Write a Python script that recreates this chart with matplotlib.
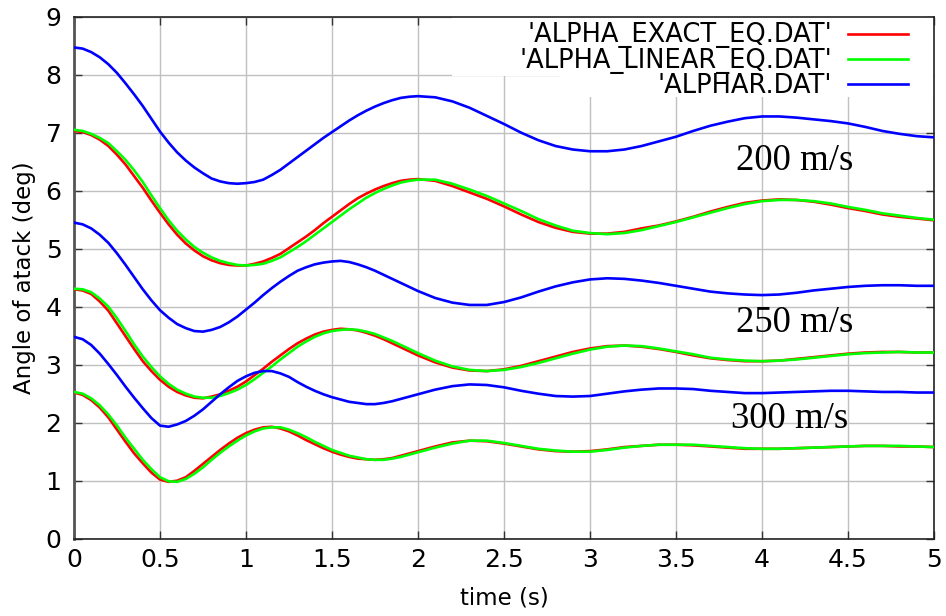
"""
Angle of attack vs time for three speeds (exact eq, linear eq, alphar data)
"""

import matplotlib
matplotlib.use('Agg')
import matplotlib.pyplot as plt
from matplotlib.patches import Rectangle
from matplotlib.lines import Line2D

# time axis (s): 0.05 s step up to 2 s, then 0.1 s step
time = ([round(0.05 * i, 2) for i in range(41)] +
        [round(2.0 + 0.1 * i, 1) for i in range(1, 31)])

# 200 m/s
exact_200 = [7.03, 7.01, 6.96, 6.88, 6.77, 6.62, 6.45, 6.25, 6.05, 5.83,
             5.62, 5.42, 5.24, 5.09, 4.97, 4.87, 4.80, 4.75, 4.72, 4.71,
             4.71, 4.74, 4.78, 4.84, 4.91, 5.01, 5.11, 5.21, 5.32, 5.44,
             5.55, 5.66, 5.77, 5.87, 5.95, 6.02, 6.08, 6.13, 6.17, 6.19,
             6.20,
             6.17, 6.08, 5.97, 5.86, 5.73, 5.59, 5.46, 5.36, 5.29, 5.26,
             5.26, 5.29, 5.35, 5.40, 5.47, 5.55, 5.64, 5.72, 5.79, 5.83,
             5.85, 5.84, 5.81, 5.76, 5.70, 5.65, 5.59, 5.55, 5.52, 5.49]
linear_200 = [7.05, 7.03, 6.98, 6.91, 6.82, 6.68, 6.53, 6.35, 6.15, 5.92,
              5.70, 5.49, 5.31, 5.16, 5.03, 4.93, 4.85, 4.79, 4.75, 4.72,
              4.71, 4.72, 4.74, 4.79, 4.85, 4.94, 5.03, 5.13, 5.24, 5.35,
              5.46, 5.57, 5.68, 5.78, 5.88, 5.96, 6.03, 6.09, 6.14, 6.17,
              6.19,
              6.19, 6.12, 6.02, 5.91, 5.78, 5.65, 5.51, 5.40, 5.31, 5.27,
              5.25, 5.27, 5.32, 5.39, 5.46, 5.54, 5.62, 5.70, 5.77, 5.82,
              5.84, 5.84, 5.82, 5.78, 5.72, 5.67, 5.61, 5.57, 5.53, 5.50]
alphar_200 = [8.47, 8.45, 8.39, 8.30, 8.18, 8.03, 7.85, 7.66, 7.46, 7.24,
              7.02, 6.83, 6.66, 6.52, 6.40, 6.30, 6.21, 6.16, 6.13, 6.12,
              6.13, 6.15, 6.19, 6.27, 6.36, 6.47, 6.58, 6.69, 6.80, 6.91,
              7.01, 7.11, 7.21, 7.30, 7.38, 7.45, 7.51, 7.56, 7.60, 7.62,
              7.63,
              7.61, 7.54, 7.43, 7.29, 7.15, 7.00, 6.87, 6.77, 6.71, 6.68,
              6.68, 6.71, 6.77, 6.85, 6.93, 7.03, 7.12, 7.19, 7.25, 7.28,
              7.28, 7.26, 7.23, 7.20, 7.16, 7.10, 7.03, 6.98, 6.94, 6.92]

# 250 m/s
exact_250 = [4.30, 4.28, 4.22, 4.09, 3.93, 3.71, 3.49, 3.27, 3.06, 2.89,
             2.74, 2.62, 2.53, 2.47, 2.43, 2.42, 2.45, 2.49, 2.55, 2.62,
             2.71, 2.82, 2.93, 3.05, 3.16, 3.27, 3.37, 3.45, 3.52, 3.57,
             3.60, 3.62, 3.61, 3.59, 3.55, 3.50, 3.44, 3.37, 3.30, 3.23,
             3.16,
             3.04, 2.95, 2.90, 2.89, 2.92, 2.98, 3.06, 3.14, 3.22, 3.28,
             3.32, 3.33, 3.31, 3.27, 3.22, 3.16, 3.11, 3.08, 3.06, 3.06,
             3.07, 3.10, 3.13, 3.16, 3.19, 3.21, 3.22, 3.22, 3.21, 3.21]
linear_250 = [4.31, 4.30, 4.25, 4.14, 4.00, 3.80, 3.58, 3.35, 3.14, 2.96,
              2.80, 2.67, 2.57, 2.50, 2.45, 2.43, 2.43, 2.46, 2.51, 2.57,
              2.65, 2.75, 2.86, 2.97, 3.09, 3.20, 3.31, 3.40, 3.48, 3.54,
              3.58, 3.60, 3.61, 3.60, 3.57, 3.53, 3.47, 3.41, 3.34, 3.27,
              3.20,
              3.07, 2.97, 2.91, 2.89, 2.91, 2.96, 3.03, 3.11, 3.19, 3.26,
              3.31, 3.33, 3.32, 3.28, 3.23, 3.18, 3.12, 3.09, 3.07, 3.06,
              3.07, 3.09, 3.12, 3.15, 3.18, 3.20, 3.21, 3.22, 3.21, 3.21]
alphar_250 = [5.45, 5.42, 5.35, 5.24, 5.10, 4.92, 4.72, 4.51, 4.30, 4.11,
              3.94, 3.81, 3.70, 3.63, 3.58, 3.57, 3.60, 3.65, 3.73, 3.83,
              3.95, 4.07, 4.20, 4.32, 4.43, 4.53, 4.62, 4.68, 4.73, 4.76,
              4.78, 4.79, 4.77, 4.73, 4.68, 4.62, 4.55, 4.48, 4.41, 4.34,
              4.27,
              4.15, 4.07, 4.03, 4.03, 4.08, 4.16, 4.26, 4.35, 4.42, 4.47,
              4.49, 4.48, 4.45, 4.41, 4.36, 4.31, 4.26, 4.23, 4.21, 4.20,
              4.21, 4.24, 4.28, 4.31, 4.34, 4.36, 4.37, 4.37, 4.36, 4.36]

# 300 m/s
exact_300 = [2.52, 2.48, 2.39, 2.26, 2.09, 1.88, 1.67, 1.47, 1.30, 1.14,
             1.02, 0.98, 1.00, 1.06, 1.17, 1.29, 1.41, 1.53, 1.64, 1.74,
             1.82, 1.88, 1.92, 1.93, 1.90, 1.85, 1.78, 1.70, 1.63, 1.56,
             1.50, 1.45, 1.41, 1.38, 1.37, 1.36, 1.37, 1.39, 1.43, 1.47,
             1.51,
             1.59, 1.66, 1.69, 1.68, 1.64, 1.59, 1.54, 1.51, 1.50, 1.51,
             1.54, 1.58, 1.60, 1.62, 1.62, 1.61, 1.59, 1.57, 1.55, 1.55,
             1.55, 1.56, 1.57, 1.58, 1.59, 1.60, 1.60, 1.59, 1.59, 1.58]
linear_300 = [2.53, 2.50, 2.42, 2.30, 2.14, 1.95, 1.74, 1.55, 1.36, 1.20,
              1.06, 0.99, 0.98, 1.03, 1.12, 1.23, 1.36, 1.48, 1.59, 1.69,
              1.78, 1.85, 1.90, 1.92, 1.92, 1.88, 1.82, 1.75, 1.67, 1.60,
              1.53, 1.48, 1.43, 1.40, 1.37, 1.36, 1.36, 1.38, 1.41, 1.45,
              1.49,
              1.57, 1.64, 1.69, 1.69, 1.65, 1.60, 1.55, 1.52, 1.50, 1.50,
              1.53, 1.57, 1.60, 1.62, 1.62, 1.62, 1.60, 1.58, 1.56, 1.55,
              1.55, 1.56, 1.57, 1.58, 1.59, 1.60, 1.60, 1.60, 1.59, 1.58]
alphar_300 = [3.48, 3.44, 3.34, 3.19, 3.01, 2.82, 2.62, 2.43, 2.25, 2.08,
              1.95, 1.93, 1.97, 2.03, 2.12, 2.23, 2.36, 2.49, 2.61, 2.72,
              2.80, 2.86, 2.89, 2.89, 2.85, 2.79, 2.70, 2.62, 2.55, 2.49,
              2.44, 2.40, 2.36, 2.34, 2.32, 2.32, 2.34, 2.37, 2.41, 2.45,
              2.49,
              2.57, 2.63, 2.66, 2.65, 2.61, 2.55, 2.50, 2.46, 2.45, 2.46,
              2.50, 2.54, 2.57, 2.59, 2.59, 2.58, 2.55, 2.53, 2.51, 2.51,
              2.52, 2.53, 2.54, 2.55, 2.55, 2.54, 2.53, 2.53, 2.52, 2.52]

speed_labels = ['200 m/s', '250 m/s', '300 m/s']
label_x = [4.19, 4.19, 4.16]
label_y = [6.51, 3.73, 2.06]

legend_labels = ["'ALPHA_EXACT_EQ.DAT'", "'ALPHA_LINEAR_EQ.DAT'",
                 "'ALPHAR.DAT'"]
colors = ['#ff0000', '#00ff00', '#0000ff']
x_ticks = [0, 0.5, 1, 1.5, 2, 2.5, 3, 3.5, 4, 4.5, 5]
x_tick_labels = ['0', '0.5', '1', '1.5', '2', '2.5', '3', '3.5', '4', '4.5',
                 '5']
y_ticks = list(range(10))


def main():
    plt.rcParams['font.family'] = ['DejaVu Sans']
    fig = plt.figure(figsize=(9.46, 6.16), dpi=100)
    ax = fig.add_axes([0.0782, 0.1255, 0.9091, 0.8474])

    groups = [[exact_200, linear_200, alphar_200],
              [exact_250, linear_250, alphar_250],
              [exact_300, linear_300, alphar_300]]
    for i, group in enumerate(groups):
        for j, series in enumerate(group):
            assert len(series) == len(time)
            ax.plot(time, series, color=colors[j], lw=1.9, zorder=3 + j,
                    solid_joinstyle='round')
        ax.text(label_x[i], label_y[i], speed_labels[i], ha='center',
                va='center', fontsize=26.5, family='Liberation Serif')

    ax.set_xlim(0, 5)
    ax.set_ylim(0, 9)
    ax.set_xticks(x_ticks)
    ax.set_xticklabels(x_tick_labels)
    ax.set_yticks(y_ticks)
    ax.tick_params(direction='in', length=6, width=1, top=True, right=True,
                   labelsize=18, color='#333333')
    ax.tick_params(axis='x', pad=7)
    ax.tick_params(axis='y', pad=9)
    ax.grid(True, color='#c0c0c0', lw=1)
    ax.set_axisbelow(True)
    for side in ['top', 'right', 'bottom']:
        ax.spines[side].set_linewidth(1.2)
        ax.spines[side].set_color('#222222')
    ax.spines['left'].set_linewidth(2)
    ax.spines['left'].set_color('#555555')

    ax.set_xlabel('time (s)', fontsize=16.5, labelpad=10)
    ax.set_ylabel('Angle of atack (deg)', fontsize=16.5, labelpad=7)

    # key: white background boxes, right-aligned text block, sample lines
    ax.add_patch(Rectangle((0.4395, 0.8855), 0.5605, 0.1145,
                           transform=ax.transAxes, facecolor='white',
                           edgecolor='none', zorder=1))
    ax.add_patch(Rectangle((0.5651, 0.8455), 0.4349, 0.0405,
                           transform=ax.transAxes, facecolor='white',
                           edgecolor='none', zorder=1))
    ax.text(0.8814, 0.989, '\n'.join(legend_labels),
            transform=ax.transAxes, ha='right', va='top',
            multialignment='right', linespacing=0.96, fontsize=18.5,
            zorder=7)
    key_y = [0.9669, 0.9190, 0.8711]
    for k in range(3):
        ax.add_line(Line2D([0.9, 0.9698], [key_y[k], key_y[k]],
                           transform=ax.transAxes, color=colors[k], lw=1.9,
                           zorder=7))

    fig.savefig('out.png', dpi=100)


if __name__ == "__main__":
    main()
